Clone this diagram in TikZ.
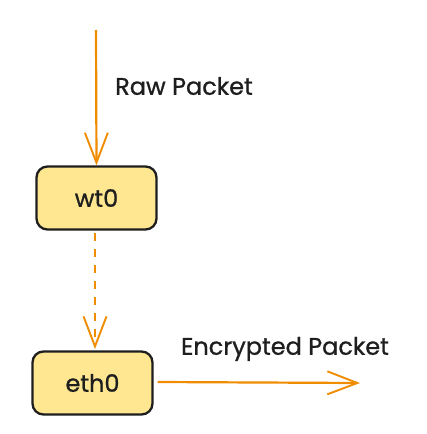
\documentclass[tikz,border=0pt]{standalone}
\usepackage{fontspec}
\setmainfont[FakeBold=0.9,AutoFakeBold=0.9]{Poppins}
\usetikzlibrary{arrows.meta}
\definecolor{boxfill}{RGB}{255,231,146}
\definecolor{ink}{RGB}{30,30,30}
\definecolor{orng}{RGB}{240,140,0}
\tikzset{
  x=1pt,y=-1pt,
  iface/.style={draw=ink,fill=boxfill,line width=2.3pt,rounded corners=11pt,minimum width=120pt,minimum height=63pt,inner sep=0pt,font=\fontsize{24}{28}\selectfont\bfseries,text=ink},
  flow/.style={draw=orng,line width=2.2pt,-{Straight Barb[length=30pt,width=23pt,line width=1.9pt]}},
  lbl/.style={font=\fontsize{24}{28}\selectfont\bfseries,text=ink,inner sep=0pt}
}
\begin{document}
\begin{tikzpicture}
\useasboundingbox[fill=white] (0,0) rectangle (426,434);
\node[iface] (wt) at (96.5,198) {wt0};
\node[iface] (eth) at (92.5,383) {eth0};
\coordinate (src) at (96,30);
\coordinate (dst) at (360,383);
\coordinate (dashA) at (95,233);
\coordinate (dashB) at (95,349);
\draw[flow] (src) -- (wt.north);
\draw[flow,dashed,dash pattern=on 8pt off 8pt] (dashA) -- (dashB);
\draw[flow] (eth.east) ++(4,-1) -- (dst);
\node[lbl] (raw) at (184,86) {Raw Packet};
\node[lbl] (enc) at (285,349) {Encrypted Packet};
\end{tikzpicture}
\end{document}
